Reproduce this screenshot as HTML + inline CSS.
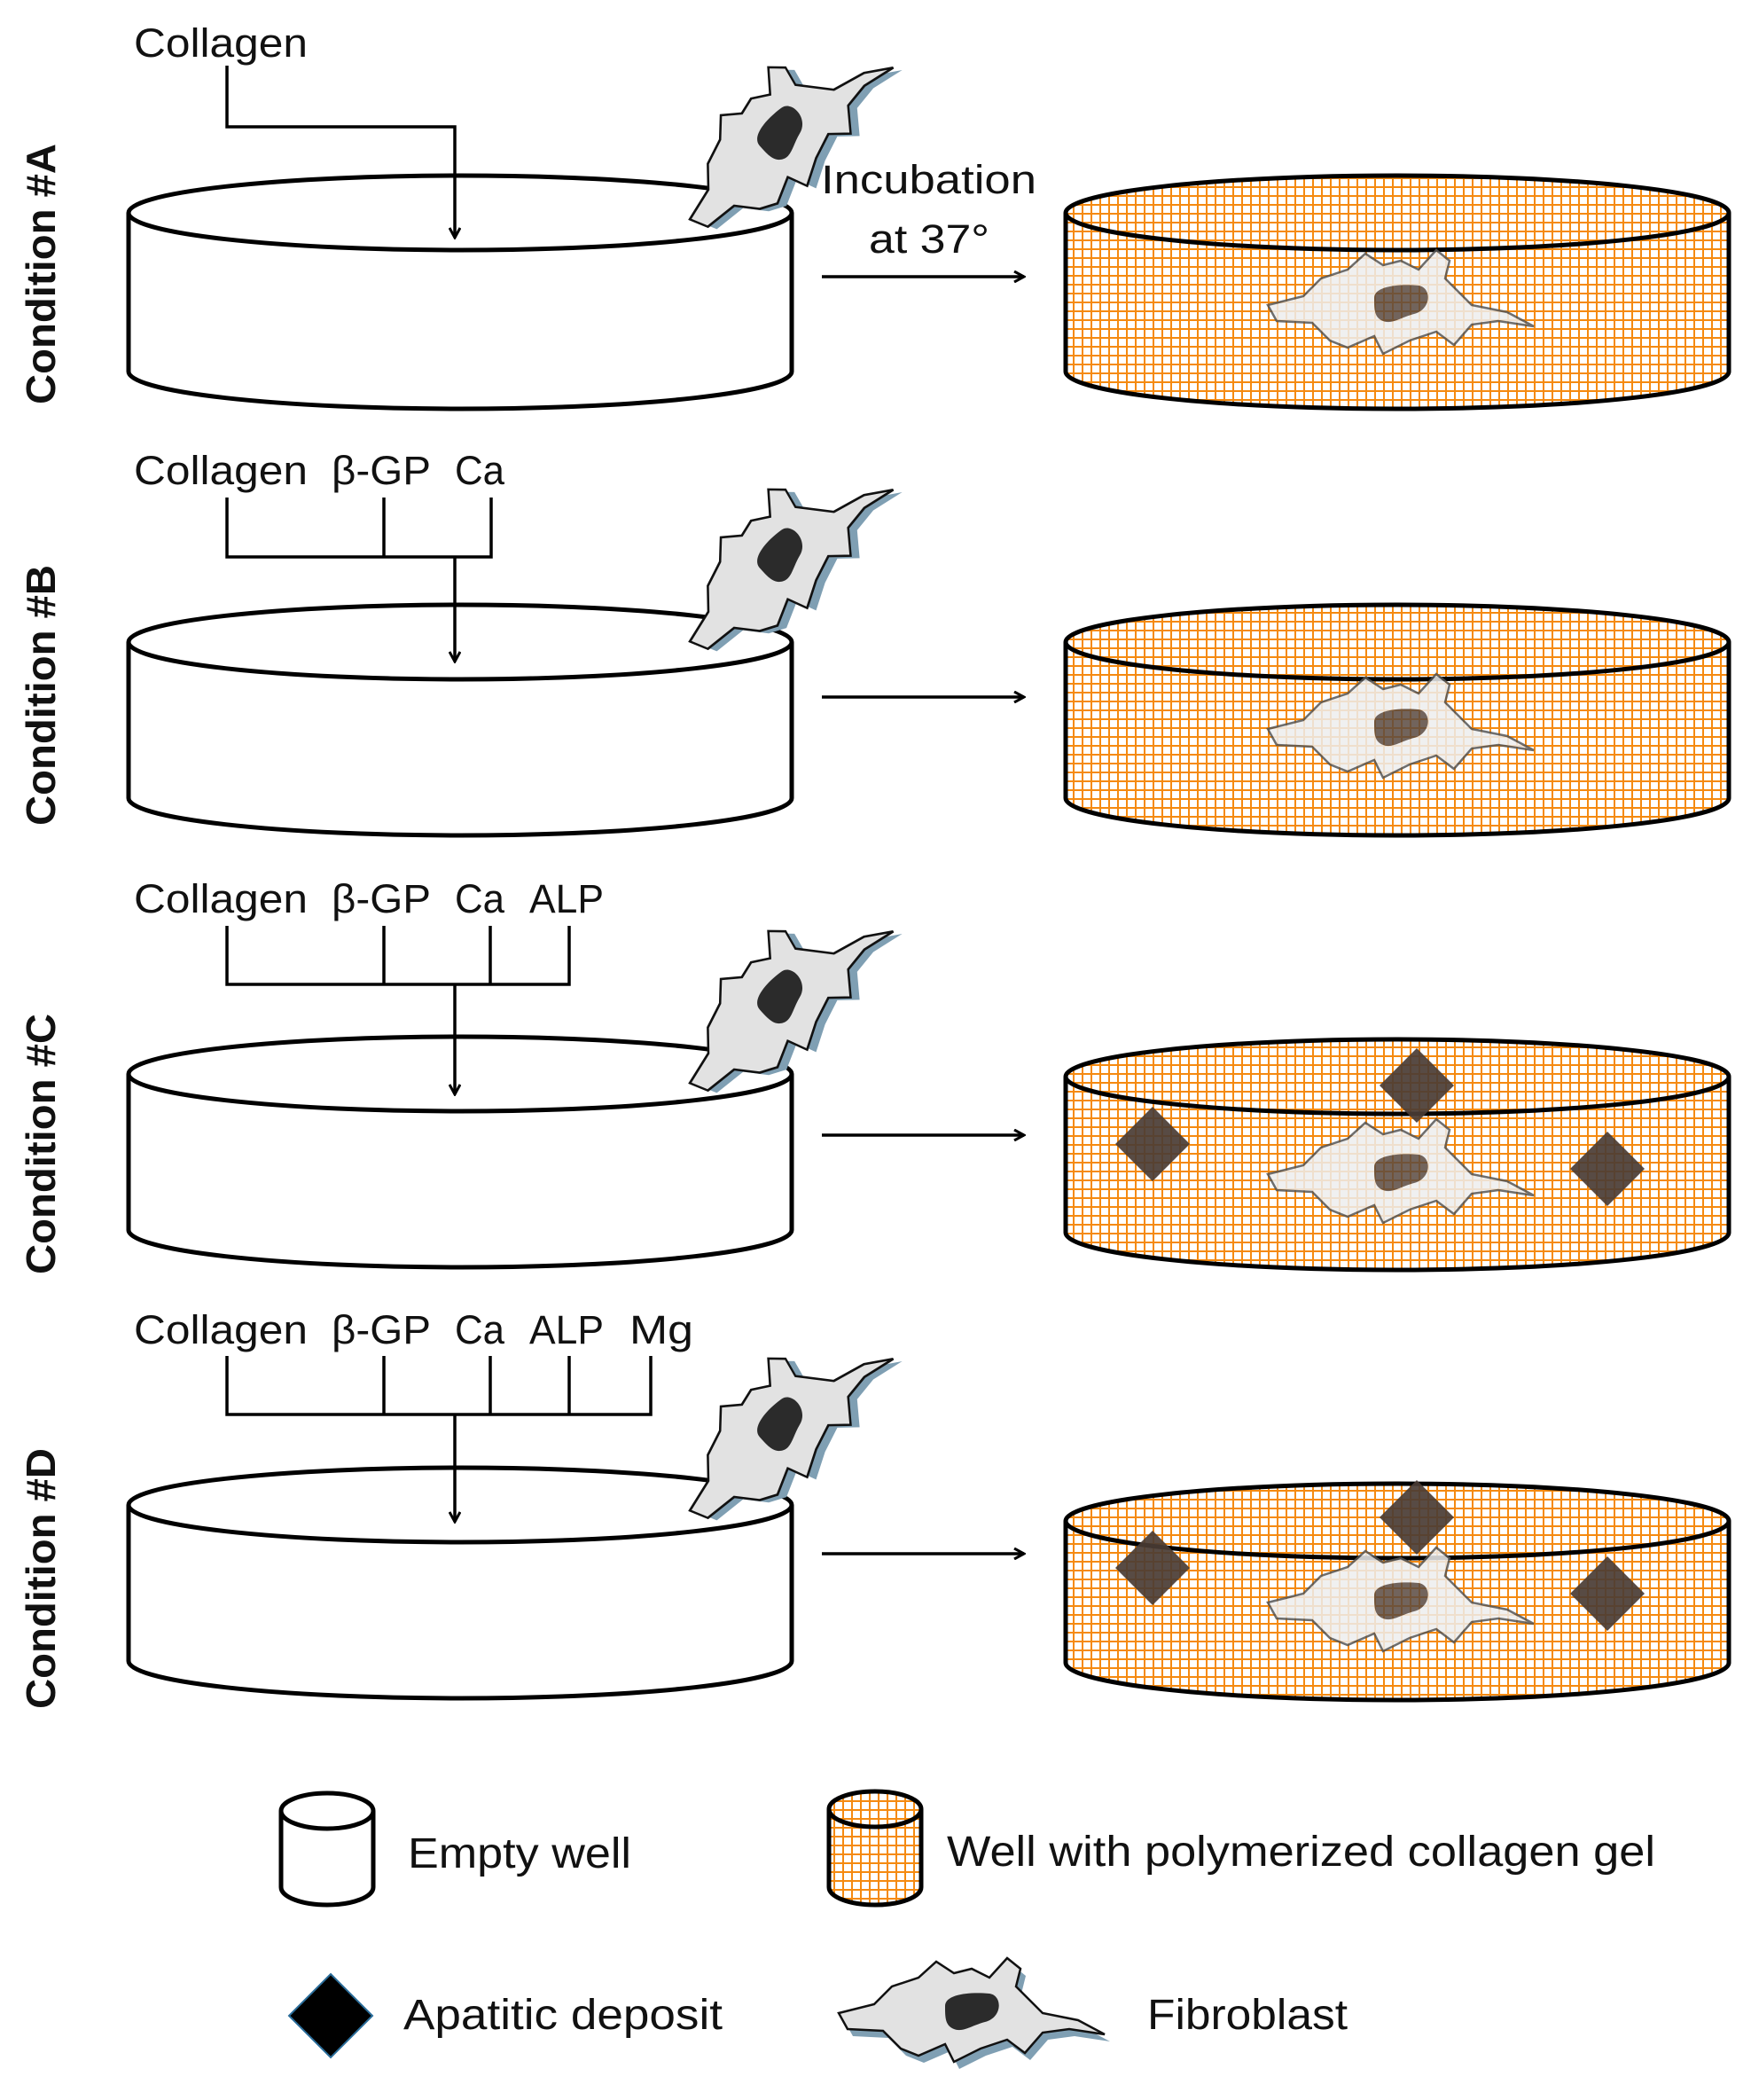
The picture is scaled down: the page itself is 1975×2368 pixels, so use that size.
<!DOCTYPE html>
<html><head><meta charset="utf-8"><style>
html,body{margin:0;padding:0;background:#fff;}
svg{display:block;}
text{font-family:"Liberation Sans","DejaVu Sans",sans-serif;fill:#111;}
</style></head><body>
<svg width="1975" height="2368" viewBox="0 0 1975 2368" xmlns="http://www.w3.org/2000/svg">
<defs>
<pattern id="grid" width="10" height="10" patternUnits="userSpaceOnUse">
<rect width="10" height="10" fill="#fff"/>
<path d="M0 0H10M0 0V10" stroke="#f58a10" stroke-width="4"/>
</pattern>
<marker id="ah" markerWidth="14" markerHeight="14" refX="12" refY="7" orient="auto" markerUnits="userSpaceOnUse">
<path d="M1 1L12 7L1 13" fill="none" stroke="#000" stroke-width="3"/>
</marker>
<g id="cell">
<path transform="translate(6,8)" fill="#7f9fb3" d="M-150 0L-110 -10L-90 -30L-60 -40L-40 -58L-20 -45L0 -50L20 -40L40 -62L55 -50L50 -30L80 0L120 8L150 24L110 18L80 22L60 45L40 30L10 40L-20 55L-30 35L-60 48L-80 40L-100 20L-140 18Z"/>
<path fill="#e2e2e2" stroke="#111" stroke-width="2.5" d="M-150 0L-110 -10L-90 -30L-60 -40L-40 -58L-20 -45L0 -50L20 -40L40 -62L55 -50L50 -30L80 0L120 8L150 24L110 18L80 22L60 45L40 30L10 40L-20 55L-30 35L-60 48L-80 40L-100 20L-140 18Z"/>
<path fill="#2b2b2b" d="M-30 -8C-30 -22 0 -24 20 -22C35 -20 35 5 15 10C0 14 -10 22 -20 18C-30 14 -30 5 -30 -8Z"/>
</g>
<g id="cellg" opacity="0.85">
<path fill="#eee" stroke="#555" stroke-width="2.5" d="M-150 0L-110 -10L-90 -30L-60 -40L-40 -58L-20 -45L0 -50L20 -40L40 -62L55 -50L50 -30L80 0L120 8L150 24L110 18L80 22L60 45L40 30L10 40L-20 55L-30 35L-60 48L-80 40L-100 20L-140 18Z"/>
<path fill="#5a4a40" d="M-30 -8C-30 -22 0 -24 20 -22C35 -20 35 5 15 10C0 14 -10 22 -20 18C-30 14 -30 5 -30 -8Z"/>
</g>
<path id="dia" d="M0 -42L42 0L0 42L-42 0Z" fill="#4a3c34" fill-opacity="0.92"/>
</defs>

<g font-weight="bold" font-size="46">
<text transform="translate(62,309) rotate(-90)" text-anchor="middle" textLength="294" lengthAdjust="spacingAndGlyphs">Condition #A</text>
<text transform="translate(62,784) rotate(-90)" text-anchor="middle" textLength="294" lengthAdjust="spacingAndGlyphs">Condition #B</text>
<text transform="translate(62,1290) rotate(-90)" text-anchor="middle" textLength="294" lengthAdjust="spacingAndGlyphs">Condition #C</text>
<text transform="translate(62,1780) rotate(-90)" text-anchor="middle" textLength="294" lengthAdjust="spacingAndGlyphs">Condition #D</text>
</g>

<g stroke="#000" stroke-width="5">
<path d="M145 240V419A374 42 0 0 0 893 419V240" fill="#fff"/>
<ellipse cx="519" cy="240" rx="374" ry="42" fill="#fff"/>
<path d="M1202 240V419A374 42 0 0 0 1950 419V240" fill="url(#grid)"/>
<ellipse cx="1576" cy="240" rx="374" ry="42" fill="url(#grid)"/>
<path d="M145 724V900A374 42 0 0 0 893 900V724" fill="#fff"/>
<ellipse cx="519" cy="724" rx="374" ry="42" fill="#fff"/>
<path d="M1202 724V900A374 42 0 0 0 1950 900V724" fill="url(#grid)"/>
<ellipse cx="1576" cy="724" rx="374" ry="42" fill="url(#grid)"/>
<path d="M145 1211V1387A374 42 0 0 0 893 1387V1211" fill="#fff"/>
<ellipse cx="519" cy="1211" rx="374" ry="42" fill="#fff"/>
<path d="M1202 1214V1390A374 42 0 0 0 1950 1390V1214" fill="url(#grid)"/>
<ellipse cx="1576" cy="1214" rx="374" ry="42" fill="url(#grid)"/>
<path d="M145 1697V1873A374 42 0 0 0 893 1873V1697" fill="#fff"/>
<ellipse cx="519" cy="1697" rx="374" ry="42" fill="#fff"/>
<path d="M1202 1715V1875A374 42 0 0 0 1950 1875V1715" fill="url(#grid)"/>
<ellipse cx="1576" cy="1715" rx="374" ry="42" fill="url(#grid)"/>
</g>

<use href="#cellg" x="1580" y="344"/>
<use href="#cellg" x="1580" y="822"/>
<use href="#cellg" x="1580" y="1324"/>
<use href="#cellg" x="1580" y="1807"/>
<use href="#dia" x="1300" y="1290"/>
<use href="#dia" x="1598" y="1224"/>
<use href="#dia" x="1813" y="1318"/>
<use href="#dia" x="1300" y="1768"/>
<use href="#dia" x="1598" y="1711"/>
<use href="#dia" x="1813" y="1797"/>

<use href="#cell" transform="translate(884,152) rotate(-42) scale(0.95,1.1)"/>
<use href="#cell" transform="translate(884,628) rotate(-42) scale(0.95,1.1)"/>
<use href="#cell" transform="translate(884,1126) rotate(-42) scale(0.95,1.1)"/>
<use href="#cell" transform="translate(884,1608) rotate(-42) scale(0.95,1.1)"/>

<g stroke="#000" stroke-width="3.5" fill="none">
<path d="M256 74V143H513V268" marker-end="url(#ah)"/>
<path d="M256 561V628H554V561M433 561V628M513 628V746" marker-end="url(#ah)"/>
<path d="M256 1044V1110H642V1044M433 1044V1110M553 1044V1110M513 1110V1234" marker-end="url(#ah)"/>
<path d="M256 1529V1595H734V1529M433 1529V1595M553 1529V1595M642 1529V1595M513 1595V1716" marker-end="url(#ah)"/>
<path d="M927 312H1155" marker-end="url(#ah)"/>
<path d="M927 786H1155" marker-end="url(#ah)"/>
<path d="M927 1280H1155" marker-end="url(#ah)"/>
<path d="M927 1752H1155" marker-end="url(#ah)"/>
</g>

<g font-size="45">
<text x="151" y="64" textLength="196" lengthAdjust="spacingAndGlyphs">Collagen</text>
<text x="151" y="546" textLength="196" lengthAdjust="spacingAndGlyphs">Collagen</text><text x="374" y="546" textLength="112" lengthAdjust="spacingAndGlyphs">β-GP</text><text x="513" y="546" textLength="56" lengthAdjust="spacingAndGlyphs">Ca</text>
<text x="151" y="1029" textLength="196" lengthAdjust="spacingAndGlyphs">Collagen</text><text x="374" y="1029" textLength="112" lengthAdjust="spacingAndGlyphs">β-GP</text><text x="513" y="1029" textLength="56" lengthAdjust="spacingAndGlyphs">Ca</text><text x="597" y="1029" textLength="84" lengthAdjust="spacingAndGlyphs">ALP</text>
<text x="151" y="1515" textLength="196" lengthAdjust="spacingAndGlyphs">Collagen</text><text x="374" y="1515" textLength="112" lengthAdjust="spacingAndGlyphs">β-GP</text><text x="513" y="1515" textLength="56" lengthAdjust="spacingAndGlyphs">Ca</text><text x="597" y="1515" textLength="84" lengthAdjust="spacingAndGlyphs">ALP</text><text x="710" y="1515" textLength="72" lengthAdjust="spacingAndGlyphs">Mg</text>
<text x="926" y="218" textLength="243" lengthAdjust="spacingAndGlyphs">Incubation</text>
<text x="980" y="285" textLength="136" lengthAdjust="spacingAndGlyphs">at 37°</text>
</g>

<g stroke="#000" stroke-width="5">
<path d="M317 2042V2128A52 20 0 0 0 421 2128V2042" fill="#fff"/>
<ellipse cx="369" cy="2042" rx="52" ry="20" fill="#fff"/>
<path d="M935 2040V2128A52 20 0 0 0 1039 2128V2040" fill="url(#grid)"/>
<ellipse cx="987" cy="2040" rx="52" ry="20" fill="url(#grid)"/>
</g>
<path d="M373 2226L420 2273L373 2320L326 2273Z" fill="#000" stroke="#2a6d9a" stroke-width="2"/>
<use href="#cell" x="1096" y="2270"/>
<g font-size="48">
<text x="460" y="2106" textLength="252" lengthAdjust="spacingAndGlyphs">Empty well</text>
<text x="1068" y="2104" textLength="799" lengthAdjust="spacingAndGlyphs">Well with polymerized collagen gel</text>
<text x="455" y="2288" textLength="360" lengthAdjust="spacingAndGlyphs">Apatitic deposit</text>
<text x="1294" y="2288" textLength="226" lengthAdjust="spacingAndGlyphs">Fibroblast</text>
</g>
</svg>
</body></html>
